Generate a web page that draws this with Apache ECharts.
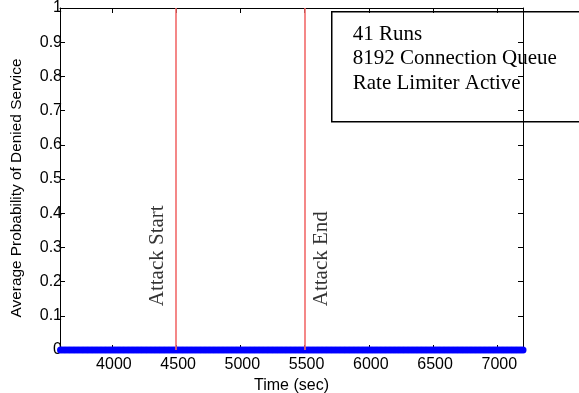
<!DOCTYPE html>
<html>
<head>
<meta charset="utf-8">
<script src="https://cdn.jsdelivr.net/npm/echarts@6/dist/echarts.min.js"></script>
<style>
html,body{margin:0;padding:0;background:#fff;}
#chart{width:579px;height:393px;}
</style>
</head>
<body>
<div id="chart"></div>
<script>
// ---- data ----
var timeSec = [
  3600,3620,3640,3660,3680,3700,3720,3740,3760,3780,3800,3820,3840,3860,3880,3900,3920,3940,3960,3980,
  4000,4020,4040,4060,4080,4100,4120,4140,4160,4180,4200,4220,4240,4260,4280,4300,4320,4340,4360,4380,
  4400,4420,4440,4460,4480,4500,4520,4540,4560,4580,4600,4620,4640,4660,4680,4700,4720,4740,4760,4780,
  4800,4820,4840,4860,4880,4900,4920,4940,4960,4980,5000,5020,5040,5060,5080,5100,5120,5140,5160,5180,
  5200,5220,5240,5260,5280,5300,5320,5340,5360,5380,5400,5420,5440,5460,5480,5500,5520,5540,5560,5580,
  5600,5620,5640,5660,5680,5700,5720,5740,5760,5780,5800,5820,5840,5860,5880,5900,5920,5940,5960,5980,
  6000,6020,6040,6060,6080,6100,6120,6140,6160,6180,6200,6220,6240,6260,6280,6300,6320,6340,6360,6380,
  6400,6420,6440,6460,6480,6500,6520,6540,6560,6580,6600,6620,6640,6660,6680,6700,6720,6740,6760,6780,
  6800,6820,6840,6860,6880,6900,6920,6940,6960,6980,7000,7020,7040,7060,7080,7100,7120,7140,7160,7180,
  7200
];
var probDenied = [
  0,0,0,0,0,0,0,0,0,0,0,0,0,0,0,0,0,0,0,0,
  0,0,0,0,0,0,0,0,0,0,0,0,0,0,0,0,0,0,0,0,
  0,0,0,0,0,0,0,0,0,0,0,0,0,0,0,0,0,0,0,0,
  0,0,0,0,0,0,0,0,0,0,0,0,0,0,0,0,0,0,0,0,
  0,0,0,0,0,0,0,0,0,0,0,0,0,0,0,0,0,0,0,0,
  0,0,0,0,0,0,0,0,0,0,0,0,0,0,0,0,0,0,0,0,
  0,0,0,0,0,0,0,0,0,0,0,0,0,0,0,0,0,0,0,0,
  0,0,0,0,0,0,0,0,0,0,0,0,0,0,0,0,0,0,0,0,
  0,0,0,0,0,0,0,0,0,0,0,0,0,0,0,0,0,0,0,0,
  0
];
var xTicks = [4000, 4500, 5000, 5500, 6000, 6500, 7000];
var attackLines = [4500, 5500];
var attackLabels = ['Attack Start', 'Attack End'];
var attackLabelPos = [[4357, 0.128], [5628, 0.128]];
var infoLines = ['41 Runs', '8192 Connection Queue', 'Rate Limiter Active'];
var xAxisTitle = 'Time (sec)';
var yAxisTitle = 'Average Probability of Denied Service';

// ---- chart ----
var sans = '"Liberation Sans", Arial, sans-serif';
var serif = '"Liberation Serif", "Times New Roman", serif';
var chart = echarts.init(document.getElementById('chart'), null, {renderer: 'canvas'});

var pts = timeSec.map(function (t, i) { return [t, probDenied[i]]; });
var annot = attackLabels.map(function (s, i) {
  return {value: attackLabelPos[i], name: s};
});

var axisLine = {show: true, onZero: false, lineStyle: {color: '#000', width: 1}};
var tickIn = {show: true, inside: true, length: 5, lineStyle: {color: '#000', width: 1}};

chart.setOption({
  animation: false,
  backgroundColor: '#fff',
  grid: {left: 60, right: 56, top: 8, bottom: 43, containLabel: false, outerBoundsMode: 'none'},
  xAxis: [{
    type: 'value', min: 3596, max: 7200, position: 'bottom',
    name: xAxisTitle, nameLocation: 'middle', nameGap: 27,
    nameTextStyle: {fontFamily: sans, fontSize: 16, color: '#000'},
    axisLine: axisLine,
    axisTick: Object.assign({customValues: xTicks}, tickIn),
    axisLabel: {customValues: xTicks, margin: 7, fontFamily: sans, fontSize: 16, color: '#000', padding: [0, 0, 0, 4],
      formatter: function (v) { return String(v); }},
    splitLine: {show: false}
  }, {
    type: 'value', min: 3596, max: 7200, position: 'top',
    axisLine: axisLine,
    axisTick: Object.assign({customValues: xTicks}, tickIn),
    axisLabel: {show: false, customValues: xTicks},
    splitLine: {show: false}
  }],
  yAxis: [{
    type: 'value', min: 0, max: 1, interval: 0.1, position: 'left',
    name: yAxisTitle, nameLocation: 'middle', nameGap: 36,
    nameTextStyle: {fontFamily: sans, fontSize: 15.4, color: '#000', padding: [0, 18, 0, 0]},
    axisLine: axisLine, axisTick: tickIn,
    axisLabel: {margin: -2, fontFamily: sans, fontSize: 16, color: '#000', padding: [3, 0, 0, 0],
      formatter: function (v) { return String(Math.round(v * 10) / 10); }},
    splitLine: {show: false}
  }, {
    type: 'value', min: 0, max: 1, interval: 0.1, position: 'right',
    axisLine: axisLine, axisTick: tickIn,
    axisLabel: {show: false},
    splitLine: {show: false}
  }],
  series: [{
    type: 'scatter',
    data: pts,
    symbol: 'circle', symbolSize: 7,
    itemStyle: {color: '#0000ff', opacity: 1},
    clip: false,
    z: 3,
    markLine: {
      silent: true, symbol: 'none', animation: false,
      label: {show: false},
      lineStyle: {color: '#f26a6a', width: 1.6, type: 'solid', opacity: 1},
      data: attackLines.map(function (x) { return {xAxis: x}; })
    }
  }, {
    type: 'scatter',
    data: annot,
    symbolSize: 0,
    silent: true,
    label: {
      show: true, position: [0, 0], rotate: 90,
      align: 'left', verticalAlign: 'middle',
      formatter: function (p) { return p.name; },
      fontFamily: serif, fontSize: 21, color: '#000'
    }
  }],
  graphic: [{
    type: 'group', left: 331, top: 11, z: 100,
    children: [{
      type: 'rect',
      shape: {x: 0, y: 0, width: 270, height: 110},
      style: {fill: '#fff', stroke: '#000', lineWidth: 1.5}
    }, {
      type: 'text',
      x: 21, y: 10,
      style: {
        text: infoLines.join('\n'),
        font: '21px ' + serif,
        lineHeight: 24.5,
        fill: '#000'
      }
    }]
  }]
});
</script>
</body>
</html>
